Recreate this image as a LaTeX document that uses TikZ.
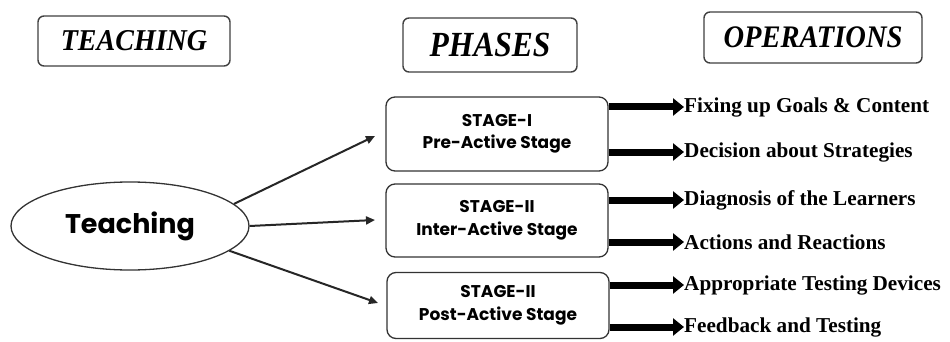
\documentclass[tikz,border=0pt]{standalone}
\usepackage{fontspec}
\setmainfont{Liberation Serif}
\newfontfamily\geofont{Poppins}
\usetikzlibrary{shapes.geometric,arrows.meta}

\tikzset{
  headbox/.style={draw=black!75, line width=1.4pt, rounded corners=6pt,
    inner sep=0pt, font=\bfseries\itshape},
  stagebox/.style={draw=black!80, line width=1.3pt, rounded corners=9pt,
    minimum width=222pt, inner sep=0pt, align=center,
    font=\geofont\bfseries\fontsize{17}{22.5}\selectfont},
  thinarrow/.style={draw=black!85, line width=2pt,
    -{Triangle[length=9pt,width=8pt]}},
  fatarrow/.style={draw=black, line width=7pt,
    -{Triangle[length=11pt,width=17pt]}},
  oplabel/.style={anchor=west, inner sep=0pt,
    font=\bfseries\fontsize{21.2}{22}\selectfont},
}

\begin{document}
\begin{tikzpicture}[x=1pt,y=-1pt]
\useasboundingbox[fill=white] (0,0) rectangle (950,342);

% column headings
\node[headbox, minimum width=192pt, minimum height=50pt] (hTeach) at (134,41)
  {\scalebox{1}[1.08]{\fontsize{28}{30}\selectfont TEACHING}};
\node[headbox, minimum width=174pt, minimum height=54pt] (hPhase) at (490,45)
  {\scalebox{1}[1.12]{\fontsize{31.5}{33}\selectfont PHASES}};
\node[headbox, minimum width=218pt, minimum height=51pt] (hOper) at (813,37.5)
  {\scalebox{1}[1.1]{\fontsize{28.5}{30}\selectfont OPERATIONS}};

% central concept
\node[ellipse, draw=black!80, line width=1.3pt, minimum width=238pt,
  minimum height=88pt, inner sep=0pt,
  font=\geofont\bfseries\fontsize{27}{29}\selectfont] (teach) at (130,226) {Teaching};

% the three stages
\node[stagebox, minimum height=74pt] (s1) at (497,134)
  {STAGE-I\\Pre-Active Stage};
\node[stagebox, minimum height=73pt] (s2) at (497,220.5)
  {STAGE-II\\Inter-Active Stage};
\node[stagebox, minimum height=66pt] (s3) at (498,305.5)
  {STAGE-II\\Post-Active Stage};

% links from the concept to each stage
\coordinate (t1) at (375,136);
\coordinate (t2) at (375,220);
\coordinate (t3) at (378,303);
\draw[thinarrow] (teach.12) -- (t1);
\draw[thinarrow] (teach.east) -- (t2);
\draw[thinarrow] (teach.-14) -- (t3);

% operations
\node[oplabel] (o1) at (684,107) {Fixing up Goals \& Content};
\node[oplabel] (o2) at (684,152) {Decision about Strategies};
\node[oplabel] (o3) at (684,200) {Diagnosis of the Learners};
\node[oplabel] (o4) at (684,242) {Actions and Reactions};
\node[oplabel] (o5) at (684,285) {Appropriate Testing Devices};
\node[oplabel] (o6) at (684,327) {Feedback and Testing};

\draw[fatarrow] (s1.east |- o1.west) -- (o1.west);
\draw[fatarrow] (s1.east |- o2.west) -- (o2.west);
\draw[fatarrow] (s2.east |- o3.west) -- (o3.west);
\draw[fatarrow] (s2.east |- o4.west) -- (o4.west);
\draw[fatarrow] (s3.east |- o5.west) -- (o5.west);
\draw[fatarrow] (s3.east |- o6.west) -- (o6.west);
\end{tikzpicture}
\end{document}
